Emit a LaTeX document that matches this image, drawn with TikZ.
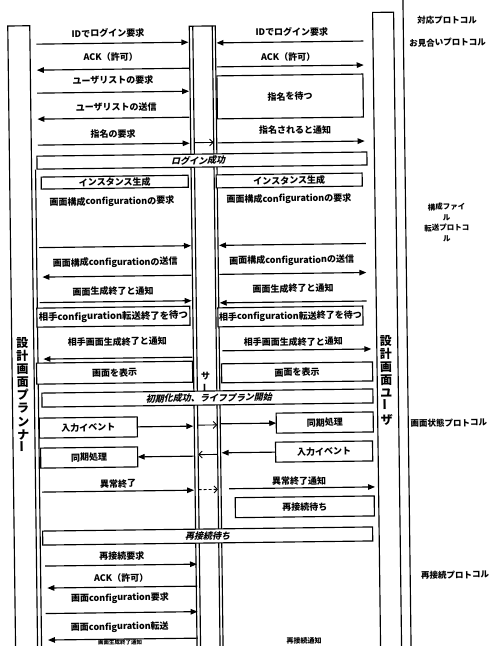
\documentclass[tikz,border=0pt]{standalone}
\usepackage{fontspec}
\usepackage{graphicx}
\setmainfont{Noto Sans CJK JP}
\newfontfamily\slfont{Noto Sans CJK JP}[FakeSlant=0.25]
\usetikzlibrary{arrows.meta}
\begin{document}
\begin{tikzpicture}[x=1pt,y=-1pt,
  every node/.style={inner sep=0pt, outer sep=0pt},
  lbl/.style={font=\fontsize{9}{10}\selectfont\bfseries},
  hdr/.style={font=\fontsize{8.5}{10}\selectfont\bfseries},
  hdrs/.style={font=\fontsize{7.5}{10.5}\selectfont\bfseries, align=center},
  vert/.style={font=\fontsize{12}{13.1}\selectfont\bfseries, align=center},
  bx/.style={draw, line width=1.15pt, fill=white, font=\fontsize{9}{10}\selectfont\bfseries},
  wide/.style={draw, line width=1.15pt, fill=white},
  ital/.style={font=\fontsize{9}{10}\selectfont\slfont\bfseries},
  msg/.style={line width=1.15pt, -{Triangle[length=7pt,width=5.5pt]}},
  opn/.style={line width=0.9pt, -{Straight Barb[length=3.5pt,width=7pt]}},
  life/.style={line width=1.15pt}
]
\useasboundingbox (0,0) rectangle (496,646);
\fill[white] (0,0) rectangle (496,646);
\begin{scope}[rotate around={0.72:(248,323)}, every node/.append style={transform shape}]
% lane coordinates
\coordinate (LL) at (40,0);
\coordinate (LR) at (192,0);
\coordinate (SIL) at (196.5,0);
\coordinate (SIR) at (216,0);
\coordinate (RL) at (220,0);
\coordinate (RR) at (367,0);
\coordinate (RL2) at (227,0);
\coordinate (RR2) at (373,0);
% lifelines
\draw[life] (11.5,665) -- (11.5,23) -- (33.5,23) -- (33.5,665);
\draw[life] (37.5,167) -- (37.5,665);
\draw[life] (193,665) -- (193,25.5) -- (219,25.5) -- (219,665);
\draw[life] (196.5,25.5) -- (196.5,665);
\draw[life] (216,25.5) -- (216,665);
\draw[life] (376.5,665) -- (376.5,14) -- (397.5,14) -- (397.5,665);
\draw[life] (407,-5) -- (407,665);
% server label
\node[lbl] (sa) at (205,376) {サ};
\node[lbl, rotate=90] (sab) at (205,387) {ー};
% vertical actor names
\node[vert] (vl) at (22,392) {設\\計\\画\\面\\プ\\ラ\\ン\\ナ\\\rotatebox{90}{ー}};
\node[vert] (vr) at (385.5,382) {設\\計\\画\\面\\ユ\\\rotatebox{90}{ー}\\ザ};
% protocol headers
\node[hdr] (h1) at (451,22.5) {対応プロトコル};
\node[hdr] (h2) at (451,45) {お見合いプロトコル};
\node[hdrs] (h3) at (448,225) {構成ファイ\\ル\\転送プロトコ\\ル};
\node[hdr] (h4) at (447.5,425.5) {画面状態プロトコル};
\node[hdr] (h5) at (452,577.5) {再接続プロトコル};
% row 1
\node[lbl] (l1) at (111.5,31.5) {IDでログイン要求};
\draw[msg] (LL |- 0,41.5) -- (LR |- 0,41.5);
\node[lbl] (r1) at (295.5,32.5) {IDでログイン要求};
\draw[msg] (RR |- 0,42.5) -- (RL |- 0,42.5);
% row 2
\node[lbl] (l2) at (114,55.5) {ACK（許可）};
\draw[msg] (LR |- 0,67.5) -- (LL |- 0,67.5);
\node[lbl] (r2) at (291.5,57.5) {ACK（許可）};
\draw[msg] (RL |- 0,66.5) -- (RR |- 0,66.5);
% row 3-4
\node[lbl] (l3) at (116,78.5) {ユーザリストの要求};
\draw[msg] (LL |- 0,90.5) -- (LR |- 0,90.5);
\node[bx, minimum width=146, minimum height=43] (rnom) at (293,97) {指名を待つ};
\node[lbl] (l4) at (119,105.5) {ユーザリストの送信};
\draw[msg] (LR |- 0,116.5) -- (LL |- 0,116.5);
% row 5
\node[lbl] (l5) at (115.5,132.5) {指名の要求};
\draw[msg] (LL |- 0,142.5) -- (LR |- 0,142.5);
\draw[opn] (SIL |- 0,142) -- (SIR |- 0,142);
\node[lbl] (r5) at (297.5,130.5) {指名されると通知};
\draw[msg] (RL |- 0,142.5) -- (RR |- 0,142.5);
% login success
\node[wide, minimum width=330, minimum height=13] (login) at (204,160) {};
\node[ital] (logint) at (200,160) {ログイン成功};
% instance creation
\node[bx, minimum width=147, minimum height=12] (linst) at (116.5,180.5) {インスタンス生成};
\node[bx, minimum width=146, minimum height=13] (rinst) at (291,181) {インスタンス生成};
\node[lbl] (l8) at (113.5,200) {画面構成configurationの要求};
\node[lbl] (r8) at (290.5,199.5) {画面構成configurationの要求};
\draw[msg] (LL |- 0,245) -- (LR |- 0,245);
\draw[msg] (RR |- 0,245) -- (RL |- 0,245);
\node[lbl] (l10) at (116,261) {画面構成configurationの送信};
\draw[msg] (LR |- 0,274.5) -- ([xshift=3pt]LL |- 0,274.5);
\node[lbl] (r10) at (292.5,261) {画面構成configurationの送信};
\draw[msg] (RL |- 0,274) -- (RR |- 0,274);
\node[lbl] (l11) at (113.5,289.5) {画面生成終了と通知};
\draw[msg] (LL |- 0,300) -- (LR |- 0,300);
\node[lbl] (r11) at (293.5,289) {画面生成終了と通知};
\draw[msg] (RR |- 0,302.5) -- (RL |- 0,302.5);
% waiting for configuration
\node[bx, minimum width=153, minimum height=19, font=\fontsize{9.4}{10}\selectfont\bfseries] (lwait) at (113.5,315) {相手configuration転送終了を待つ};
\node[bx, minimum width=145, minimum height=19, font=\fontsize{9}{10}\selectfont\bfseries] (rwait) at (290.5,317) {相手configuration転送終了を待つ};
\node[lbl] (l13) at (117,340) {相手画面生成終了と通知};
\draw[msg] (LR |- 0,356.5) -- ([xshift=3pt]LL |- 0,356.5);
\node[lbl] (r13) at (293,342.5) {相手画面生成終了と通知};
\draw[msg] ([xshift=2pt]RL |- 0,350.5) -- ([xshift=4pt]RR |- 0,350.5);
\node[bx, minimum width=156, minimum height=21] (ldisp) at (114,371) {画面を表示};
\node[bx, minimum width=151, minimum height=19] (rdisp) at (296.5,373) {画面を表示};
% init success
\node[wide, minimum width=331, minimum height=14] (init) at (206.5,397.5) {};
\node[ital] (initt) at (208,397.5) {初期化成功、ライフプラン開始};
% input / sync
\node[bx, minimum width=98, minimum height=20] (lin) at (87,425.5) {入力イベント};
\draw[msg] (lin.east) -- (lin.east -| LR);
\draw[opn] (SIL |- 0,424.5) -- (SIR |- 0,424.5);
\node[bx, minimum width=97, minimum height=20] (rsync) at (323.5,423.5) {同期処理};
\draw[msg] (RL |- rsync.west) -- (rsync.west);
\node[bx, minimum width=97, minimum height=20] (lsync) at (87.5,455.5) {同期処理};
\draw[msg] (lsync.east -| LR) -- (lsync.east);
\draw[opn] (SIR |- 0,454) -- (SIL |- 0,454);
\node[bx, minimum width=97, minimum height=20] (rin) at (322.5,452.5) {入力イベント};
\draw[msg] (rin.west) -- (rin.west -| RL);
% abnormal end
\node[lbl] (l18) at (116,482) {異常終了};
\draw[msg] (LL |- 0,489.5) -- (LR |- 0,489.5);
\draw[opn, dashed, dash pattern=on 3pt off 2pt] (SIL |- 0,489) -- (SIR |- 0,489);
\node[lbl] (r18) at (297,481.5) {異常終了通知};
\draw[msg] (RL2 |- 0,488.5) -- (RR2 |- 0,488.5);
\node[bx, minimum width=139, minimum height=20] (rrew) at (302.5,507.5) {再接続待ち};
% reconnect wait
\node[wide, minimum width=330, minimum height=14] (rewait) at (205,535.5) {};
\node[ital] (rewaitt) at (205,535.5) {再接続待ち};
% reconnect protocol
\node[lbl] (l21) at (119,554.5) {再接続要求};
\draw[msg] ([xshift=2pt]LL |- 0,563.5) -- ([xshift=2pt]LR |- 0,563.5);
\node[lbl] (l22) at (118,576.5) {ACK（許可）};
\draw[msg] ([xshift=2pt]LR |- 0,585.5) -- ([xshift=4pt]LL |- 0,585.5);
\node[lbl] (l23) at (116.5,596.5) {画面configuration要求};
\draw[msg] ([xshift=2pt]LL |- 0,611) -- ([xshift=2pt]LR |- 0,611);
\node[lbl] (l24) at (116,625.5) {画面configuration転送};
\draw[msg] ([xshift=2pt]LR |- 0,637.5) -- ([xshift=4pt]LL |- 0,637.5);
\node[lbl, font=\fontsize{5.5}{6}\selectfont\bfseries] (l25) at (116,640.8) {画面生成終了通知};
\node[lbl, font=\fontsize{7}{8}\selectfont\bfseries] (r25) at (300,641.5) {再接続通知};
\end{scope}
\end{tikzpicture}
\end{document}
